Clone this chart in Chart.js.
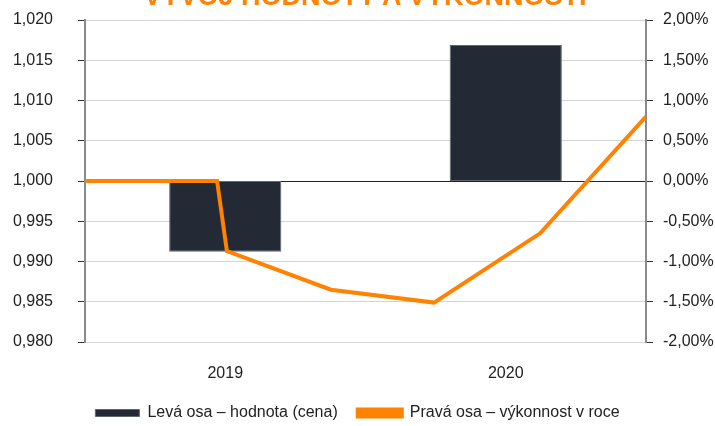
<!DOCTYPE html>
<html>
<head>
<meta charset="utf-8">
<script src="https://cdn.jsdelivr.net/npm/chart.js@4"></script>
<style>
  body { margin: 0; background: #fff; overflow: hidden; }
  #wrap { position: relative; width: 715px; height: 426px; overflow: hidden; }
  #title {
    position: absolute; top: -17px; left: 0; width: 730px; text-align: center;
    font: bold 27px "Liberation Sans", Arial, sans-serif; color: #ff8200;
    line-height: 27px; white-space: nowrap;
  }
  canvas { display: block; }
</style>
</head>
<body>
<div id="wrap">
  <div id="title">VÝVOJ HODNOTY A VÝKONNOSTI</div>
  <canvas id="chart" width="715" height="426"></canvas>
</div>
<script>
// roky a hodnota (cena) - levá osa
const years = ['2019', '2020'];
const priceValues = [0.9912, 1.0169];

// výkonnost v roce - pravá osa (x v měsících od začátku)
const perfMonths = [0, 5.65, 6.07, 10.52, 14.93, 19.47, 24];
const perfValues = [0, 0, -0.87, -1.35, -1.51, -0.65, 0.80];

const font = { family: '"Liberation Sans", Arial, sans-serif', size: 16 };

const ctx = document.getElementById('chart').getContext('2d');
const chart = new Chart(ctx, {
    type: 'bar',
    data: {
        labels: years,
        datasets: [{
            label: 'Levá osa – hodnota (cena)',
            data: priceValues.map(v => [1, v]),
            backgroundColor: '#242a35',
            borderColor: '#5f6670',
            borderWidth: 1,
            borderSkipped: false,
            grouped: false,
            categoryPercentage: 0.4,
            barPercentage: 1,
            xAxisID: 'x',
            yAxisID: 'y',
            order: 2
        }, {
            type: 'line',
            label: 'Pravá osa – výkonnost v roce',
            data: perfMonths.map((m, i) => ({ x: m, y: perfValues[i] })),
            borderColor: '#ff8200',
            backgroundColor: '#ff8200',
            borderWidth: 4,
            pointRadius: 0,
            tension: 0,
            xAxisID: 'x2',
            yAxisID: 'y2',
            order: 1
        }]
    },
    options: {
        responsive: false,
        animation: false,
        layout: { padding: { top: 20, left: 0, right: 0, bottom: -5 } },
        plugins: {
            tooltip: { enabled: false },
            legend: {
                position: 'bottom',
                labels: {
                    sort: (a, b) => a.datasetIndex - b.datasetIndex,
                    font: font,
                    color: '#222',
                    boxWidth: 44,
                    boxHeight: 7,
                    padding: 20
                }
            }
        },
        scales: {
            x: {
                type: 'category',
                offset: true,
                grid: { display: false, drawTicks: false },
                border: { display: false },
                ticks: { font: font, color: '#222', padding: 22 },
                afterFit: s => { s.height = 43; }
            },
            x2: {
                type: 'linear',
                display: false,
                offset: false,
                min: 0,
                max: 24
            },
            y: {
                position: 'left',
                min: 0.98,
                max: 1.02,
                ticks: {
                    stepSize: 0.005,
                    font: font,
                    color: '#222',
                    padding: 25,
                    callback: v => v.toFixed(3).replace('.', ',')
                },
                grid: {
                    color: c => Math.abs(c.tick.value - 1) < 1e-9 ? '#222' : '#d4d4d4',
                    tickColor: '#333',
                    tickLength: 7
                },
                border: { color: '#8a8a8a', width: 2 },
                afterFit: s => { s.width = 85; s.paddingTop = 0; s.paddingBottom = 0; }
            },
            y2: {
                position: 'right',
                min: -2,
                max: 2,
                ticks: {
                    stepSize: 0.5,
                    font: font,
                    color: '#222',
                    padding: 10,
                    callback: v => v.toFixed(2).replace('.', ',') + '%'
                },
                grid: { drawOnChartArea: false, tickColor: '#333', tickLength: 7 },
                border: { color: '#8a8a8a', width: 2 },
                afterFit: s => { s.width = 69; s.paddingTop = 0; s.paddingBottom = 0; }
            }
        }
    }
});
</script>
</body>
</html>
